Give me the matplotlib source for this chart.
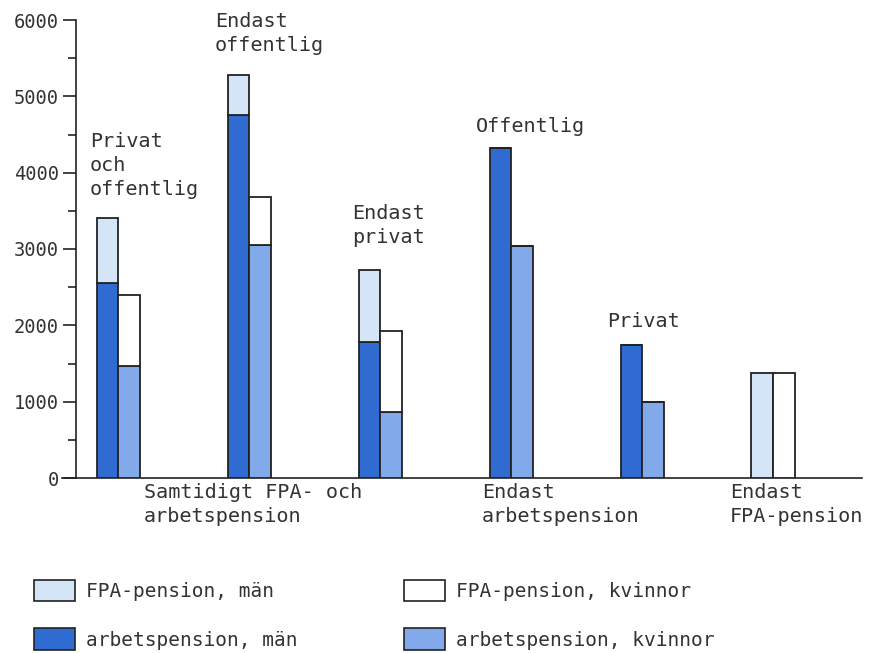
import matplotlib
matplotlib.use("Agg")
import matplotlib.pyplot as plt
from matplotlib.patches import Patch
import numpy as np

# ---- data ----
groups = ["Privat och offentlig", "Endast offentlig", "Endast privat",
          "Offentlig", "Privat", "Endast FPA-pension"]
arbets_man = [2550, 4760, 1780, 4320, 1740, 0]
fpa_man = [850, 520, 940, 0, 0, 1370]
arbets_kvinnor = [1470, 3050, 860, 3040, 990, 0]
fpa_kvinnor = [930, 630, 1070, 0, 0, 1370]
yticks = [0, 1000, 2000, 3000, 4000, 5000, 6000]
group_labels = ["Privat\noch\noffentlig", "Endast\noffentlig", "Endast\nprivat",
                "Offentlig", "Privat", ""]
cat_labels = ["Samtidigt FPA- och\narbetspension", "Endast\narbetspension",
              "Endast\nFPA-pension"]
legend_labels = ["FPA-pension, män", "arbetspension, män",
                 "FPA-pension, kvinnor", "arbetspension, kvinnor"]

# ---- style ----
c_arb_m = "#2f6bd0"
c_arb_k = "#82a9e9"
c_fpa_m = "#d5e5f8"
c_fpa_k = "#ffffff"
edge = "#222222"
txtc = "#333333"
mono = "DejaVu Sans Mono"

W, H = 875, 653
fig = plt.figure(figsize=(W / 100, H / 100), dpi=100)
ax_l, ax_r, ax_b, ax_t = 62, 862, 478, 20
ax = fig.add_axes([ax_l / W, 1 - ax_b / H, (ax_r - ax_l) / W, (ax_b - ax_t) / H])

px_per_unit = 131.0
x0_px = 118.0
ax.set_xlim((ax_l - x0_px) / px_per_unit, (ax_r - x0_px) / px_per_unit)
ax.set_ylim(0, 6000)

x = np.arange(len(groups))
w = 21.5 / px_per_unit
am = np.array(arbets_man); fm = np.array(fpa_man)
ak = np.array(arbets_kvinnor); fk = np.array(fpa_kvinnor)

kw = dict(width=w, edgecolor=edge, linewidth=1.3, zorder=3)
ax.bar(x - w / 2, am, color=c_arb_m, **kw)
ax.bar(x - w / 2, fm, bottom=am, color=c_fpa_m, **kw)
ax.bar(x + w / 2, ak, color=c_arb_k, **kw)
ax.bar(x + w / 2, fk, bottom=ak, color=c_fpa_k, **kw)

# axes styling
for s in ["top", "right"]:
    ax.spines[s].set_visible(False)
ax.spines["left"].set_position(("data", (76 - x0_px) / px_per_unit))
ax.spines["left"].set_bounds(0, 6000)
ax.spines["left"].set_color(edge)
ax.spines["bottom"].set_color(edge)
ax.spines["left"].set_linewidth(1.2)
ax.spines["bottom"].set_linewidth(1.2)
ax.set_yticks(yticks)
ax.set_yticklabels([str(v) for v in yticks], fontfamily=mono, fontsize=13.5, color=txtc)
ax.set_yticks(np.arange(500, 6000, 1000), minor=True)
ax.tick_params(axis="y", which="major", direction="out", length=9.5, width=1.2,
               color=edge, pad=3)
ax.tick_params(axis="y", which="minor", direction="out", length=5.5, width=1.2,
               color=edge)
ax.set_xticks([])

# group annotations (above bars)
fs = 14.5
lsp = 1.32
lab_pos = [(90, 132), (215, 12), (352, 204), (476, 117), (607, 312), (0, 0)]
for lbl, (px, py) in zip(group_labels, lab_pos):
    if lbl:
        fig.text(px / W, 1 - py / H, lbl, fontfamily=mono, fontsize=fs,
                 color=txtc, ha="left", va="top", linespacing=lsp)

# category labels below axis
cat_pos = [(144, 483), (482, 483), (730, 483)]
for lbl, (px, py) in zip(cat_labels, cat_pos):
    fig.text(px / W, 1 - py / H, lbl, fontfamily=mono, fontsize=fs,
             color=txtc, ha="left", va="top", linespacing=lsp)

# legend
handles = [Patch(facecolor=c_fpa_m, edgecolor=edge, linewidth=1.2),
           Patch(facecolor=c_arb_m, edgecolor=edge, linewidth=1.2),
           Patch(facecolor=c_fpa_k, edgecolor=edge, linewidth=1.2),
           Patch(facecolor=c_arb_k, edgecolor=edge, linewidth=1.2)]
leg = fig.legend(handles, legend_labels, ncol=2, loc="upper left",
                 bbox_to_anchor=(34 / W, 1 - 580 / H), frameon=False,
                 prop={"family": mono, "size": 14},
                 handlelength=2.1, handleheight=1.3, handletextpad=0.55,
                 columnspacing=5.5, labelspacing=1.4, borderaxespad=0,
                 borderpad=0)
for t in leg.get_texts():
    t.set_color(txtc)

fig.savefig("out.png", dpi=100, facecolor="white")
